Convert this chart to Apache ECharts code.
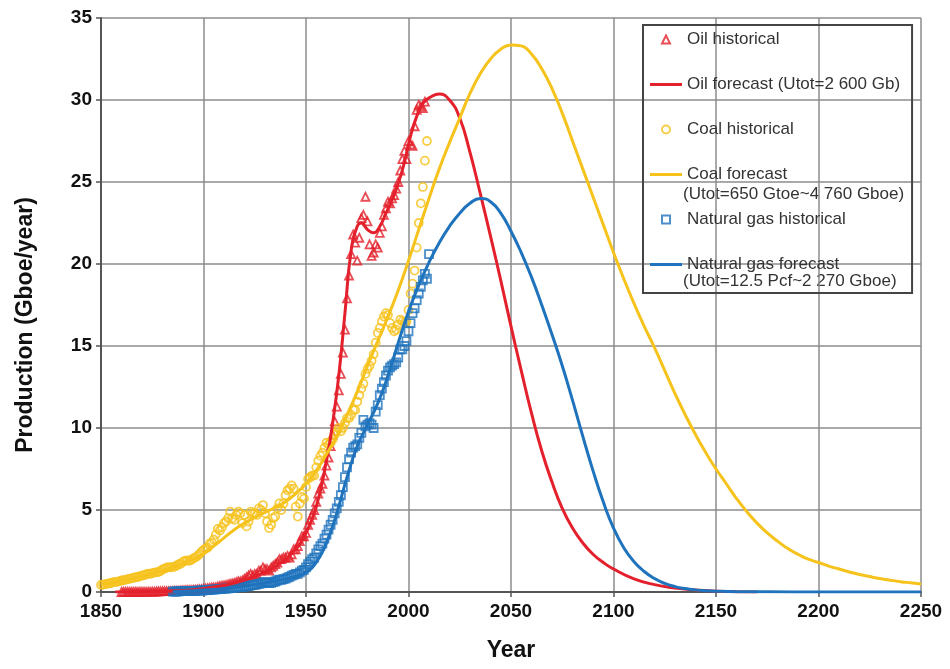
<!DOCTYPE html>
<html>
<head>
<meta charset="utf-8">
<title>Oil, coal and natural gas production</title>
<script src="https://cdn.jsdelivr.net/npm/echarts@6/dist/echarts.min.js"></script>
<style>
html, body { margin: 0; padding: 0; background: #fff; }
#chart { width: 950px; height: 669px; }
</style>
</head>
<body>
<div id="chart"></div>
<script>
// historical data: one value per year, from the start year
var oilHistStart = 1860;
var oilHist = [
  0.00, 0.01, 0.01, 0.01, 0.01, 0.01, 0.01, 0.01, 0.01, 0.01,
  0.01, 0.01, 0.01, 0.02, 0.02, 0.02, 0.02, 0.03, 0.04, 0.04,
  0.05, 0.05, 0.05, 0.05, 0.05, 0.06, 0.07, 0.07, 0.08, 0.09,
  0.10, 0.11, 0.12, 0.12, 0.12, 0.13, 0.14, 0.15, 0.16, 0.17,
  0.20, 0.21, 0.23, 0.25, 0.28, 0.28, 0.28, 0.33, 0.36, 0.38,
  0.40, 0.42, 0.45, 0.50, 0.52, 0.55, 0.60, 0.65, 0.65, 0.70,
  0.80, 0.90, 1.00, 1.10, 1.00, 1.10, 1.10, 1.30, 1.30, 1.50,
  1.40, 1.40, 1.30, 1.50, 1.60, 1.70, 1.80, 2.00, 2.00, 2.10,
  2.10, 2.20, 2.10, 2.30, 2.60, 2.60, 2.80, 3.10, 3.40, 3.40,
  3.60, 4.10, 4.40, 4.70, 5.00, 5.50, 6.00, 6.30, 6.60, 7.10,
  7.70, 8.20, 8.90, 9.60, 10.4, 11.3, 12.3, 13.3, 14.6, 16.0,
  17.9, 19.3, 20.6, 21.8, 21.3, 20.2, 21.6, 22.8, 23.0, 24.1,
  22.6, 21.2, 20.5, 20.7, 21.2, 21.0, 21.9, 22.3, 23.0, 23.4,
  23.8, 23.7, 24.0, 24.2, 24.6, 25.0, 25.7, 26.4, 26.9, 26.4,
  27.5, 27.3, 27.2, 28.4, 29.4, 29.7, 29.6, 29.5, 29.9
];

var coalHistStart = 1850;
var coalHist = [
  0.43, 0.45, 0.48, 0.50, 0.52, 0.55, 0.60, 0.60, 0.62, 0.66,
  0.70, 0.72, 0.74, 0.78, 0.80, 0.84, 0.86, 0.90, 0.92, 0.96,
  1.00, 1.02, 1.08, 1.12, 1.10, 1.15, 1.18, 1.20, 1.22, 1.28,
  1.38, 1.42, 1.48, 1.52, 1.50, 1.52, 1.55, 1.62, 1.70, 1.72,
  1.85, 1.90, 1.92, 1.90, 1.95, 2.05, 2.10, 2.20, 2.30, 2.45,
  2.56, 2.65, 2.70, 2.95, 3.00, 3.20, 3.50, 3.85, 3.75, 3.95,
  4.20, 4.30, 4.50, 4.90, 4.50, 4.40, 4.70, 4.90, 4.80, 4.20,
  4.70, 4.00, 4.30, 4.90, 4.80, 4.80, 4.70, 5.10, 5.00, 5.30,
  4.80, 4.30, 3.90, 4.10, 4.50, 4.60, 5.10, 5.40, 5.00, 5.40,
  5.90, 6.20, 6.30, 6.50, 6.30, 5.20, 4.60, 5.40, 5.80, 5.70,
  6.40, 6.90, 7.00, 7.10, 7.10, 7.60, 8.00, 8.30, 8.50, 8.80,
  9.10, 9.00, 9.10, 9.30, 9.60, 9.80, 10.0, 9.80, 10.0, 10.3,
  10.6, 10.6, 10.8, 11.1, 11.1, 11.6, 12.0, 12.4, 12.7, 13.3,
  13.6, 13.8, 14.1, 14.5, 15.2, 15.8, 16.1, 16.5, 16.8, 17.0,
  16.9, 16.4, 16.1, 15.9, 16.0, 16.3, 16.6, 16.5, 16.4, 16.5,
  17.2, 18.2, 18.8, 19.6, 21.0, 22.5, 23.7, 24.7, 26.3, 27.5
];

var gasHistStart = 1885;
var gasHist = [
  0.02, 0.03, 0.03, 0.04, 0.05, 0.05, 0.05, 0.06, 0.06, 0.06,
  0.07, 0.07, 0.08, 0.08, 0.09,
  0.10, 0.11, 0.12, 0.13, 0.14, 0.15, 0.16, 0.17, 0.18, 0.19,
  0.20, 0.21, 0.22, 0.24, 0.25, 0.26, 0.28, 0.30, 0.30, 0.32,
  0.34, 0.34, 0.36, 0.40, 0.42, 0.44, 0.46, 0.50, 0.52, 0.58,
  0.60, 0.58, 0.55, 0.56, 0.60, 0.64, 0.70, 0.75, 0.74, 0.78,
  0.82, 0.88, 0.92, 1.00, 1.05, 1.10, 1.10, 1.20, 1.30, 1.35,
  1.50, 1.70, 1.85, 2.00, 2.10, 2.35, 2.60, 2.80, 2.95, 3.25,
  3.50, 3.80, 4.10, 4.40, 4.80, 5.10, 5.50, 5.90, 6.40, 7.00,
  7.60, 8.10, 8.50, 8.80, 8.90, 9.00, 9.40, 9.70, 10.5, 10.1,
  10.2, 10.3, 10.2, 10.0, 11.0, 11.4, 12.0, 12.4, 12.8, 13.2,
  13.5, 13.7, 13.8, 13.9, 14.0, 14.3, 14.8, 14.8, 15.0, 15.3,
  15.9, 16.4, 17.0, 17.3, 17.8, 18.2, 18.6, 19.0, 19.4, 19.1, 20.6
];

// forecast curves, read at the listed years
var oilFcYears = [1857, 1865, 1875, 1885, 1895, 1905, 1915, 1925, 1935, 1945, 1950, 1955, 1960, 1963, 1966, 1969, 1972, 1975, 1977, 1980, 1983, 1986, 1989, 1992, 1995, 1998, 2001, 2004, 2007, 2011, 2015, 2020, 2025, 2030, 2035, 2040, 2045, 2050, 2055, 2060, 2065, 2070, 2075, 2080, 2085, 2090, 2095, 2100, 2110, 2120, 2130, 2140, 2150, 2160, 2170];
var oilFc = [0, 0.01, 0.03, 0.06, 0.14, 0.3, 0.55, 0.95, 1.55, 2.6, 3.6, 5.2, 8.0, 10.3, 13.2, 17.0, 20.8, 22.3, 22.5, 22.1, 21.9, 22.3, 23.1, 23.9, 24.9, 26.2, 27.8, 29.0, 29.8, 30.2, 30.37, 30.0, 28.9, 26.8, 24.3, 21.7, 19.0, 16.2, 13.5, 10.9, 8.6, 6.7, 5.1, 3.9, 3.0, 2.3, 1.8, 1.4, 0.8, 0.45, 0.25, 0.12, 0.05, 0.02, 0];

var coalFcYears = [1850, 1855, 1860, 1865, 1870, 1875, 1880, 1885, 1890, 1895, 1900, 1905, 1910, 1915, 1920, 1925, 1930, 1935, 1940, 1945, 1950, 1955, 1960, 1965, 1970, 1975, 1980, 1985, 1990, 1995, 2000, 2005, 2010, 2015, 2020, 2025, 2030, 2035, 2040, 2045, 2050, 2055, 2060, 2065, 2070, 2075, 2080, 2085, 2090, 2095, 2100, 2105, 2110, 2115, 2120, 2125, 2130, 2135, 2140, 2145, 2150, 2155, 2160, 2165, 2170, 2175, 2180, 2185, 2190, 2195, 2200, 2205, 2210, 2215, 2220, 2225, 2230, 2235, 2240, 2245, 2250];
var coalFc = [0.45, 0.55, 0.68, 0.82, 0.97, 1.12, 1.3, 1.5, 1.75, 2.0, 2.35, 2.8, 3.3, 3.8, 4.2, 4.55, 4.85, 5.15, 5.5, 6.0, 6.6, 7.4, 8.4, 9.5, 10.8, 12.2, 13.8, 15.3, 16.8, 18.4, 20.2, 22.1, 24.0, 25.8, 27.4, 28.9, 30.4, 31.6, 32.5, 33.1, 33.35, 33.3, 32.8, 31.9, 30.7, 29.2, 27.5, 25.8, 24.1, 22.4, 20.7, 19.1, 17.6, 16.2, 14.9, 13.5, 12.1, 10.8, 9.6, 8.5, 7.5, 6.6, 5.7, 4.9, 4.2, 3.6, 3.1, 2.65, 2.3, 2.0, 1.8, 1.58, 1.4, 1.22, 1.07, 0.94, 0.82, 0.72, 0.63, 0.56, 0.49];

var gasFcYears = [1885, 1890, 1895, 1900, 1905, 1910, 1915, 1920, 1925, 1930, 1935, 1940, 1945, 1950, 1955, 1960, 1965, 1970, 1975, 1980, 1985, 1990, 1995, 2000, 2005, 2010, 2015, 2020, 2025, 2030, 2035, 2040, 2045, 2050, 2055, 2060, 2065, 2070, 2075, 2080, 2085, 2090, 2095, 2100, 2105, 2110, 2115, 2120, 2125, 2130, 2135, 2140, 2145, 2150, 2160, 2175, 2200, 2250];
var gasFc = [0.02, 0.05, 0.08, 0.12, 0.16, 0.2, 0.27, 0.35, 0.45, 0.55, 0.67, 0.8, 0.95, 1.2, 1.8, 3.0, 4.8, 7.0, 8.9, 10.2, 11.5, 13.2, 15.2, 17.1, 18.7, 20.1, 21.3, 22.3, 23.1, 23.7, 24.0, 23.8, 23.1, 22.0, 20.7, 19.2, 17.5, 15.7, 13.8, 11.7, 9.5, 7.4, 5.5, 3.9, 2.7, 1.85, 1.25, 0.82, 0.52, 0.33, 0.21, 0.13, 0.08, 0.05, 0.02, 0.01, 0, 0];

var legendNames = [
  'Oil historical',
  'Oil forecast (Utot=2 600 Gb)',
  'Coal historical',
  'Coal forecast',
  'Natural gas historical',
  'Natural gas forecast'
];

var RED = '#e3202b';
var GOLD = '#f6c21c';
var BLUE = '#1f73bd';
var FONT = 'Liberation Sans';
// legend icons as paths so they keep their shape inside the 32x8 icon box
var LINE_ICON = 'path://M0,0H32V3H0Z';
var TRI_ICON = 'path://M4,0L8,8L0,8Z';
var CIRCLE_ICON = 'path://M0,4A4,4 0 1,1 8,4A4,4 0 1,1 0,4Z';
var SQUARE_ICON = 'path://M0,0H8V8H0Z';

function annual(start, vals) {
  return vals.map(function (v, i) { return [start + i, v]; });
}
function pairs(xs, vals) {
  return vals.map(function (v, i) { return [xs[i], v]; });
}

function histSeries(name, symbol, color, data) {
  return {
    name: name,
    type: 'scatter',
    symbol: symbol,
    symbolSize: 8,
    z: 2,
    itemStyle: { color: 'rgba(255,255,255,0)', borderColor: color, borderWidth: 1.8 },
    data: data
  };
}
function fcSeries(name, color, data) {
  return {
    name: name,
    type: 'line',
    smooth: 0.5,
    showSymbol: false,
    symbol: 'none',
    z: 3,
    lineStyle: { color: color, width: 3 },
    itemStyle: { color: color },
    data: data
  };
}

var chart = echarts.init(document.getElementById('chart'));
chart.setOption({
  animation: false,
  backgroundColor: '#fff',
  grid: { left: 101, right: 29, top: 18, bottom: 77 },
  xAxis: {
    type: 'value',
    min: 1850, max: 2250, interval: 50,
    name: 'Year',
    nameLocation: 'middle',
    nameGap: 47,
    nameTextStyle: { fontFamily: FONT, fontWeight: 'bold', fontSize: 23, color: '#111' },
    axisLine: { show: true, onZero: false, lineStyle: { color: '#555', width: 2 } },
    axisTick: { show: true, length: 5, lineStyle: { color: '#555', width: 1.5 } },
    axisLabel: {
      fontFamily: FONT, fontWeight: 'bold', fontSize: 19, color: '#111', margin: 10,
      formatter: function (v) { return String(v); }
    },
    splitLine: { show: true, lineStyle: { color: '#8c8c8c', width: 1.5 } }
  },
  yAxis: {
    type: 'value',
    min: 0, max: 35, interval: 5,
    name: 'Production (Gboe/year)',
    nameLocation: 'middle',
    nameGap: 64,
    nameTextStyle: { fontFamily: FONT, fontWeight: 'bold', fontSize: 23, color: '#111', padding: [0, 40, 0, 0] },
    axisLine: { show: true, lineStyle: { color: '#555', width: 2 } },
    axisTick: { show: true, length: 5, lineStyle: { color: '#555', width: 1.5 } },
    axisLabel: { fontFamily: FONT, fontWeight: 'bold', fontSize: 19, color: '#111', margin: 9 },
    splitLine: { show: true, lineStyle: { color: '#8c8c8c', width: 1.5 } }
  },
  legend: {
    orient: 'vertical',
    left: 643, top: 25,
    padding: [6, 12, 20, 7],
    itemWidth: 32, itemHeight: 8, itemGap: 28,
    symbolKeepAspect: true,
    borderColor: '#444', borderWidth: 2,
    selectedMode: false,
    textStyle: { fontFamily: FONT, fontSize: 17, lineHeight: 17, color: '#333' },
    data: [
      { name: legendNames[0], icon: TRI_ICON },
      { name: legendNames[1], icon: LINE_ICON },
      { name: legendNames[2], icon: CIRCLE_ICON },
      { name: legendNames[3], icon: LINE_ICON },
      { name: legendNames[4], icon: SQUARE_ICON },
      { name: legendNames[5], icon: LINE_ICON }
    ]
  },
  graphic: [
    { type: 'text', left: 683, top: 186, silent: true,
      style: { text: '(Utot=650 Gtoe~4 760 Gboe)', font: '17px "Liberation Sans"', fill: '#333' } },
    { type: 'text', left: 683, top: 273, silent: true,
      style: { text: '(Utot=12.5 Pcf~2 270 Gboe)', font: '17px "Liberation Sans"', fill: '#333' } }
  ],
  series: [
    histSeries(legendNames[0], 'triangle', RED, annual(oilHistStart, oilHist)),
    histSeries(legendNames[2], 'circle', GOLD, annual(coalHistStart, coalHist)),
    histSeries(legendNames[4], 'rect', BLUE, annual(gasHistStart, gasHist)),
    fcSeries(legendNames[1], RED, pairs(oilFcYears, oilFc)),
    fcSeries(legendNames[3], GOLD, pairs(coalFcYears, coalFc)),
    fcSeries(legendNames[5], BLUE, pairs(gasFcYears, gasFc))
  ]
});
</script>
</body>
</html>
